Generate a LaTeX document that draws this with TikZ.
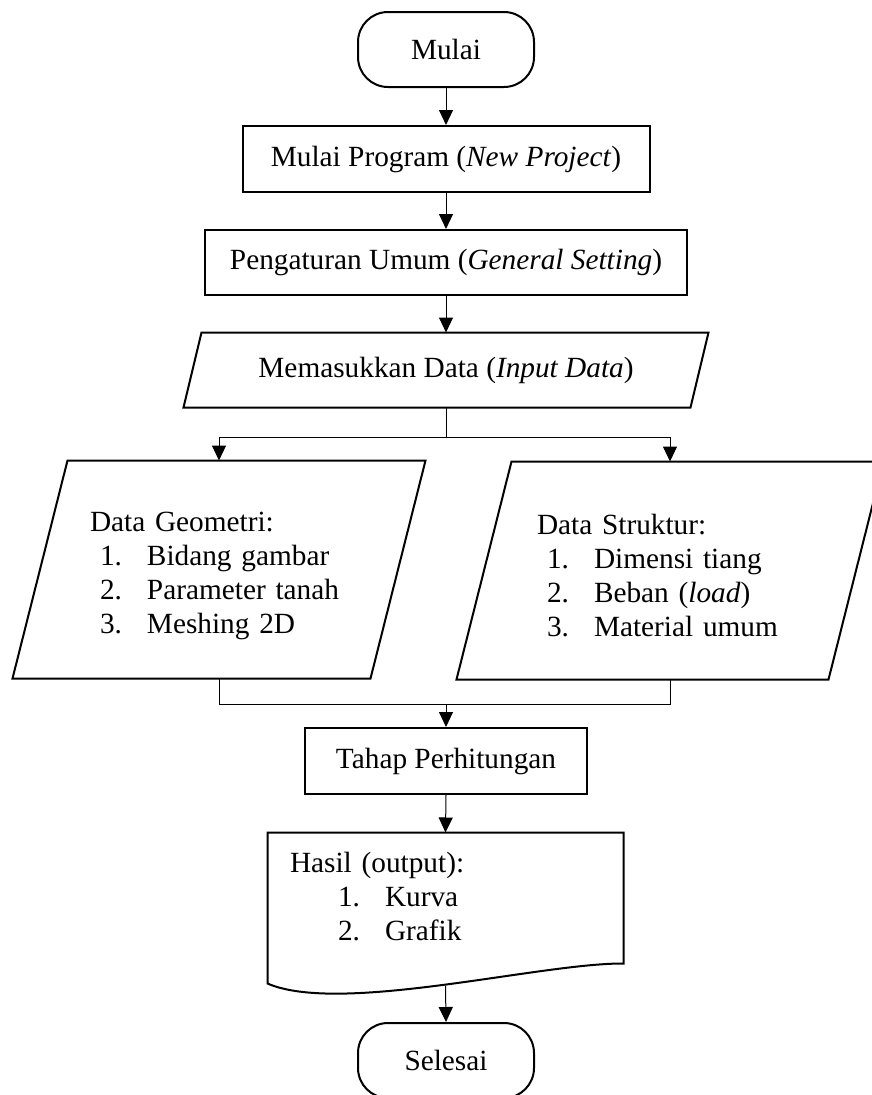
\documentclass[tikz,border=0pt]{standalone}
\usepackage{fontspec}
\setmainfont{Liberation Serif}
\usetikzlibrary{arrows.meta}
\newcommand{\listline}[3]{\hspace*{#1}\makebox[#2][l]{#3}}

\begin{document}
\begin{tikzpicture}[
        x=1pt, y=-1pt,
        line width=1pt,
        font=\fontsize{29.3}{34}\selectfont
    ]
    \tikzset{
        startstop/.style = {rectangle, rounded corners=30pt, draw=black, line width=2pt, minimum width=176pt, minimum height=75pt, inner sep=0pt},
        process/.style = {rectangle, draw=black, line width=2pt, minimum height=66pt, inner sep=0pt},
        iodata/.style = {rectangle, align=left, inner sep=0pt},
        docbox/.style = {rectangle, minimum width=355pt, minimum height=152pt, text width=311pt, align=left, inner sep=0pt},
        boxline/.style = {line width=2pt, line join=miter},
        arrow/.style = {-{Triangle[length=15pt,width=14pt]}},
    }
    \useasboundingbox (0,0) rectangle (872,1095);
    \clip (0,0) rectangle (872,1095);
    \node[startstop] (mulai) at (446,49.5) {Mulai};
    \node[process, minimum width=407pt] (program) at (446,159) {Mulai Program (\textit{New Project})};
    \node[process, minimum width=482pt, minimum height=65pt] (umum) at (446,262.5) {Pengaturan Umum (\textit{General Setting})};
    \node[iodata, minimum width=506pt, minimum height=74pt] (input) at (446,370) {Memasukkan Data (\textit{Input Data})};
    \draw[boxline] ([xshift=9pt]input.north west) -- ([xshift=9pt]input.north east)
        -- ([xshift=-9pt]input.south east) -- ([xshift=-9pt]input.south west) -- cycle;
    \node[iodata, minimum width=357pt, minimum height=217pt, text width=258pt] (geometri) at (219,569.5) {\rule{0pt}{32pt}Data Geometri:\\
        \listline{10pt}{47pt}{1.}Bidang gambar\\
        \listline{10pt}{47pt}{2.}Parameter tanah\\
        \listline{10pt}{47pt}{3.}Meshing 2D};
    \draw[boxline] ([xshift=27.5pt]geometri.north west) -- ([xshift=27.5pt]geometri.north east)
        -- ([xshift=-27.5pt]geometri.south east) -- ([xshift=-27.5pt]geometri.south west) -- cycle;
    \node[iodata, minimum width=371pt, minimum height=217pt, text width=266pt] (struktur) at (670,570.5) {\rule{0pt}{30pt}Data Struktur:\\
        \listline{10pt}{47pt}{1.}Dimensi tiang\\
        \listline{10pt}{47pt}{2.}Beban (\textit{load})\\
        \listline{10pt}{47pt}{3.}Material umum};
    \draw[boxline] ([xshift=27.5pt]struktur.north west) -- ([xshift=27.5pt]struktur.north east)
        -- ([xshift=-27.5pt]struktur.south east) -- ([xshift=-27.5pt]struktur.south west) -- cycle;
    \node[process, minimum width=282pt] (hitung) at (446,761) {Tahap Perhitungan};
    \node[docbox] (hasil) at (445.5,909) {Hasil (output):\\
        \listline{48pt}{47pt}{1.}Kurva\\
        \listline{48pt}{47pt}{2.}Grafik\rule[-26pt]{0pt}{1pt}};
    \draw[boxline] (hasil.north west) -- (hasil.north east) -- ([yshift=22pt]hasil.south east)
        .. controls (540,963) and (340,1015) .. ([yshift=2pt]hasil.south west) -- cycle;
    \node[startstop] (selesai) at (446,1060.5) {Selesai};

    \coordinate (cabang) at (446,437);
    \coordinate (gabung) at (446,704);
    \draw[arrow] (mulai.south) -- (program.north);
    \draw[arrow] (program.south) -- (umum.north);
    \draw[arrow] (umum.south) -- (input.north);
    \draw (input.south) -- (cabang);
    \draw[arrow] (cabang) -| (geometri.north);
    \draw[arrow] (cabang) -| (struktur.north);
    \draw (geometri.south) |- (gabung);
    \draw (struktur.south) |- (gabung);
    \draw[arrow] (gabung) -- (hitung.north);
    \draw[arrow] (hitung.south) -- (hasil.north);
    \draw[arrow] (hasil.south) -- (selesai.north);
\end{tikzpicture}
\end{document}
